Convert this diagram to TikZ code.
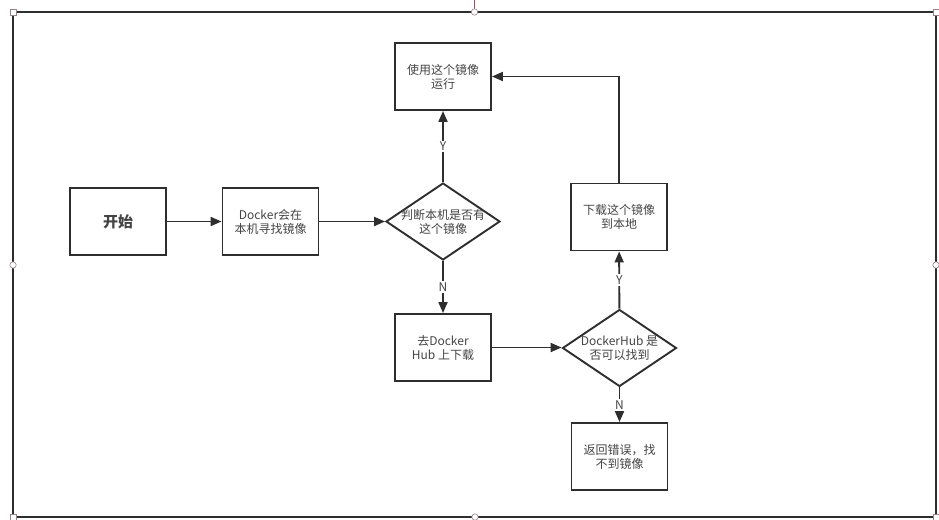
\documentclass[tikz,border=0pt]{standalone}
\usepackage{fontspec}
\newfontfamily\cjk{Noto Sans CJK SC}
\usetikzlibrary{arrows.meta,shapes.geometric}
\definecolor{linegray}{HTML}{2E2E2E}
\definecolor{textgray}{HTML}{444444}
\definecolor{handlegray}{HTML}{9A8088}
\definecolor{markred}{HTML}{B04858}

\tikzset{
    stepbox/.style={draw=linegray, line width=1.9pt, minimum width=96pt, minimum height=67pt,
        inner sep=0pt, align=center, text=textgray, font=\cjk\fontsize{12}{14}\selectfont},
    decide/.style={draw=linegray, line width=1.9pt, diamond, minimum width=114pt, minimum height=77pt,
        inner sep=0pt},
    decidetext/.style={align=center, text=textgray, font=\cjk\fontsize{12}{14}\selectfont, inner sep=0pt},
    arr/.style={draw=linegray, line width=1.9pt, -{Triangle[length=11pt,width=9pt]}},
    yn/.style={fill=white, inner sep=1.5pt, text=textgray, font=\cjk\fontsize{12}{14}\selectfont},
    handle/.style={draw=handlegray, fill=white, line width=0.6pt}
}

\begin{document}
\begin{tikzpicture}[x=1pt, y=-1pt]
    \useasboundingbox (0,0) rectangle (939,519);

    \draw[markred, line width=0.8pt] (474.5,0) -- (474.5,12);
    \draw[linegray, line width=1.6pt] (13,12) rectangle (936,517);

    \node[stepbox] (start) at (118,221.5) {\fontsize{15}{17}\selectfont\bfseries 开始};
    \node[stepbox] (search) at (270.5,221.5) {Docker会在\\本机寻找镜像};
    \node[decide] (check) at (443,221.5) {};
    \node[decidetext] at (check) {判断本机是否有\\这个镜像};
    \node[stepbox] (run) at (443,76.5) {使用这个镜像\\运行};
    \node[stepbox] (fetch) at (443,347.5) {去Docker\\Hub 上下载};
    \node[decide] (hub) at (619.5,348) {};
    \node[decidetext] at (hub) {DockerHub 是\\否可以找到};
    \node[stepbox] (pull) at (619,217) {下载这个镜像\\到本地};
    \node[stepbox] (fail) at (619.5,456.5) {返回错误，找\\不到镜像};

    \draw[arr] (start) -- (search);
    \draw[arr] (search) -- (check);
    \draw[arr] (check) -- node[yn] {Y} (run);
    \draw[arr] (check) -- node[yn] {N} (fetch);
    \draw[arr] (fetch.east) -- (fetch.east -| hub.west);
    \draw[arr] (hub) -- node[yn] {Y} (pull);
    \draw[arr] (hub) -- node[yn] {N} (fail);
    \draw[arr] (pull.north) |- (run.east);

    \foreach \p in {(13,12),(936,12),(13,517),(936,517)} {
        \filldraw[handle] \p ++(-3,-3) rectangle ++(6,6);
    }
    \foreach \p in {(474.5,12),(475,517),(13,265),(936,265)} {
        \filldraw[handle] \p circle (3.2);
    }
\end{tikzpicture}
\end{document}
